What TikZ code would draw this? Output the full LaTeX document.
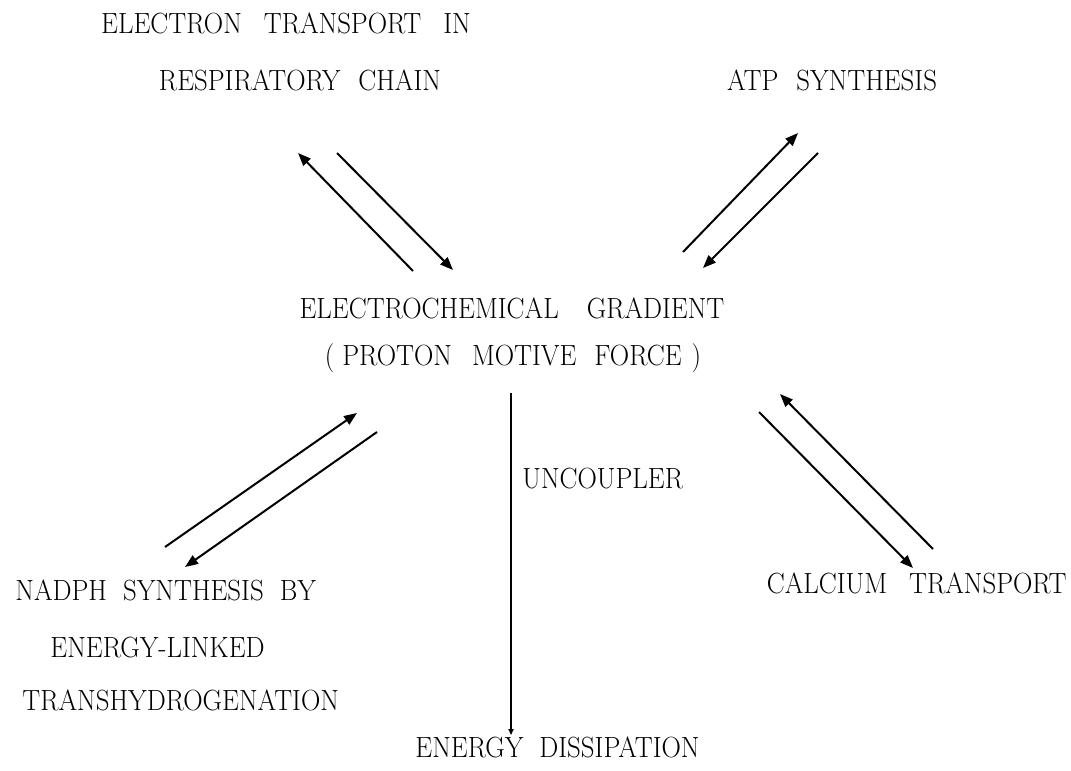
\documentclass[tikz,border=0pt]{standalone}
\usepackage{fontspec}
\setmainfont{Latin Modern Roman}[FakeStretch=0.92]
\usepackage{tikz}
\usetikzlibrary{arrows.meta,positioning,calc}
\newcommand{\gp}[1]{\hspace{#1pt}}
\tikzstyle{label} = [inner sep=0pt, font=\fontsize{14.6}{16}\selectfont, anchor=base]
\tikzstyle{line} = [draw, line width=1pt, -{Triangle[length=6.5pt,width=5pt]}]
\tikzstyle{thin} = [draw, line width=0.6pt, -{Triangle[length=3pt,width=2.6pt]}]
\begin{document}
\begin{tikzpicture}[x=0.5pt, y=-0.5pt]
        \useasboundingbox (0,0) rectangle (1071,771);
        % Nodes
        \node [label] (etc1) at (286,33) {ELECTRON\gp{11}TRANSPORT\gp{11}IN};
        \node [label] (etc2) at (300,90) {RESPIRATORY\gp{9}CHAIN};
        \node [label] (atp) at (832,90) {ATP\gp{9}SYNTHESIS};
        \node [label] (grad) at (512,318) {ELECTROCHEMICAL\gp{14}GRADIENT};
        \node [label] (pmf) at (513,365) {(\gp{4}PROTON\gp{10}MOTIVE\gp{9}FORCE\gp{5})};
        \node [label, anchor=base west] (unc) at (522,488) {UNCOUPLER};
        \node [label, anchor=base west] (nadph1) at (15,600) {NADPH\gp{8}SYNTHESIS\gp{8}BY};
        \node [label, anchor=base west] (nadph2) at (50,657) {ENERGY-LINKED};
        \node [label, anchor=base west] (nadph3) at (22,710) {TRANSHYDROGENATION};
        \node [label, anchor=base east] (calc) at (1067,593) {CALCIUM\gp{11}TRANSPORT};
        \node [label, anchor=base west] (diss) at (415,757) {ENERGY\gp{8}DISSIPATION};

        % Arrow ends
        \coordinate (etcA) at (413,271); \coordinate (etcB) at (298,153);
        \coordinate (etcC) at (337,153); \coordinate (etcD) at (453,270);
        \coordinate (atpA) at (683,252); \coordinate (atpB) at (798,133);
        \coordinate (atpC) at (818,153); \coordinate (atpD) at (703,268);
        \coordinate (nadA) at (165,547); \coordinate (nadB) at (357,413);
        \coordinate (nadC) at (377,432); \coordinate (nadD) at (185,567);
        \coordinate (calA) at (933,549); \coordinate (calB) at (780,394);
        \coordinate (calC) at (759,412); \coordinate (calD) at (913,568);
        \coordinate (uncA) at (511,393); \coordinate (uncB) at (511,735);

        % Paths
        \path [line] (etcA) -- (etcB);
        \path [line] (etcC) -- (etcD);
        \path [line] (atpA) -- (atpB);
        \path [line] (atpC) -- (atpD);
        \path [line] (nadA) -- (nadB);
        \path [line] (nadC) -- (nadD);
        \path [line] (calA) -- (calB);
        \path [line] (calC) -- (calD);
        \path [thin] (uncA) -- (uncB);
    \end{tikzpicture}
\end{document}
